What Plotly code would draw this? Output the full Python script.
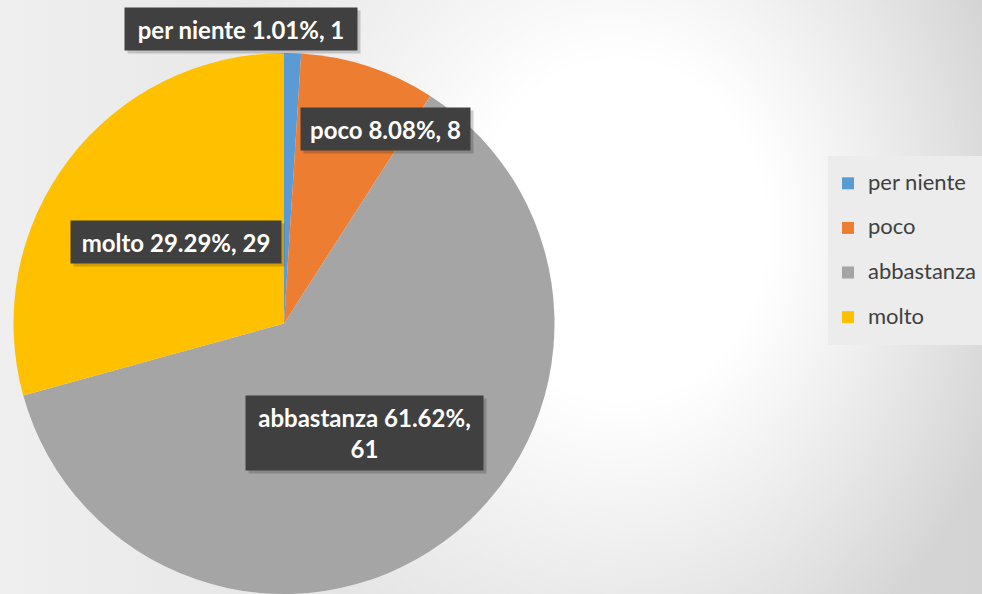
import base64
import plotly.graph_objects as go

# data
labels = ["per niente", "poco", "abbastanza", "molto"]
values = [1, 8, 61, 29]
colors = ["#5B9BD5", "#ED7D31", "#A5A5A5", "#FFC000"]

W, H = 982, 594

# label box centres / sizes in pixels (placement only)
label_boxes = [
    (241, 29, 232, 42),
    (385, 129, 169, 42),
    (364, 433, 237, 74),
    (176, 242, 210, 42),
]

total = sum(values)
texts = []
for lab, v in zip(labels, values):
    pct = v / total * 100
    t = f"{lab} {pct:.2f}%, {v}"
    if lab == "abbastanza":
        t = f"{lab} {pct:.2f}%,<br>{v}"
    texts.append("<b>" + t + "</b>")

# soft radial background (white centre, grey edges)
svg = f"""<svg xmlns='http://www.w3.org/2000/svg' width='{W}' height='{H}'>
<defs>
<linearGradient id='lin' x1='0' y1='0' x2='1' y2='0'>
<stop offset='0' stop-color='#efefef'/><stop offset='1' stop-color='#d3d3d3'/>
</linearGradient>
<radialGradient id='rad' gradientUnits='userSpaceOnUse' cx='620' cy='230' r='420'
 gradientTransform='translate(620 230) scale(1 1.15) translate(-620 -230)'>
<stop offset='0' stop-color='#ffffff' stop-opacity='1'/>
<stop offset='0.35' stop-color='#ffffff' stop-opacity='1'/>
<stop offset='1' stop-color='#ffffff' stop-opacity='0'/>
</radialGradient>
</defs>
<rect width='{W}' height='{H}' fill='url(#lin)'/>
<rect width='{W}' height='{H}' fill='url(#rad)'/>
</svg>"""
bg_src = "data:image/svg+xml;base64," + base64.b64encode(svg.encode()).decode()

fig = go.Figure()

legend_names = ["<span style='font-size:22px;baseline-shift:6px'>" + l + "</span>" for l in labels]

fig.add_trace(go.Pie(
    labels=legend_names,
    values=values,
    marker=dict(colors=colors, line=dict(width=0)),
    sort=False,
    direction="clockwise",
    rotation=0,
    textinfo="none",
    hoverinfo="label+percent+value",
    domain=dict(x=[12 / W, 556 / W], y=[0, (H - 53) / H]),
))

annotations = []
for t, (cx, cy, bw, bh) in zip(texts, label_boxes):
    # shadow box behind the label
    annotations.append(dict(
        x=(cx + 3) / W, y=1 - (cy + 3) / H, xref="paper", yref="paper",
        xanchor="center", yanchor="middle",
        text="\u00a0", showarrow=False, width=bw, height=bh, borderpad=0,
        bgcolor="rgba(0,0,0,0.18)", font=dict(family="Lato", size=24, color="rgba(0,0,0,0)"),
    ))
    annotations.append(dict(
        x=cx / W, y=1 - cy / H, xref="paper", yref="paper",
        xanchor="center", yanchor="middle",
        text=t, showarrow=False, width=bw, height=bh, borderpad=0,
        bgcolor="#404040", font=dict(family="Lato", size=24, color="white"),
    ))

fig.update_layout(
    width=W, height=H,
    margin=dict(l=0, r=0, t=0, b=0),
    paper_bgcolor="#eeeeee",
    images=[dict(source=bg_src, xref="paper", yref="paper", x=0, y=1,
                 sizex=1, sizey=1, sizing="stretch", layer="below")],
    annotations=annotations,
    legend=dict(
        x=828 / W, xanchor="left", y=1 - 156 / H, yanchor="top",
        bgcolor="#ececec", font=dict(family="Lato", size=32, color="#404040"),
        borderwidth=0,
    ),
    showlegend=True,
)

fig.write_html("out.html", config={"displayModeBar": False},
               post_script="document.body.style.margin='0';")
